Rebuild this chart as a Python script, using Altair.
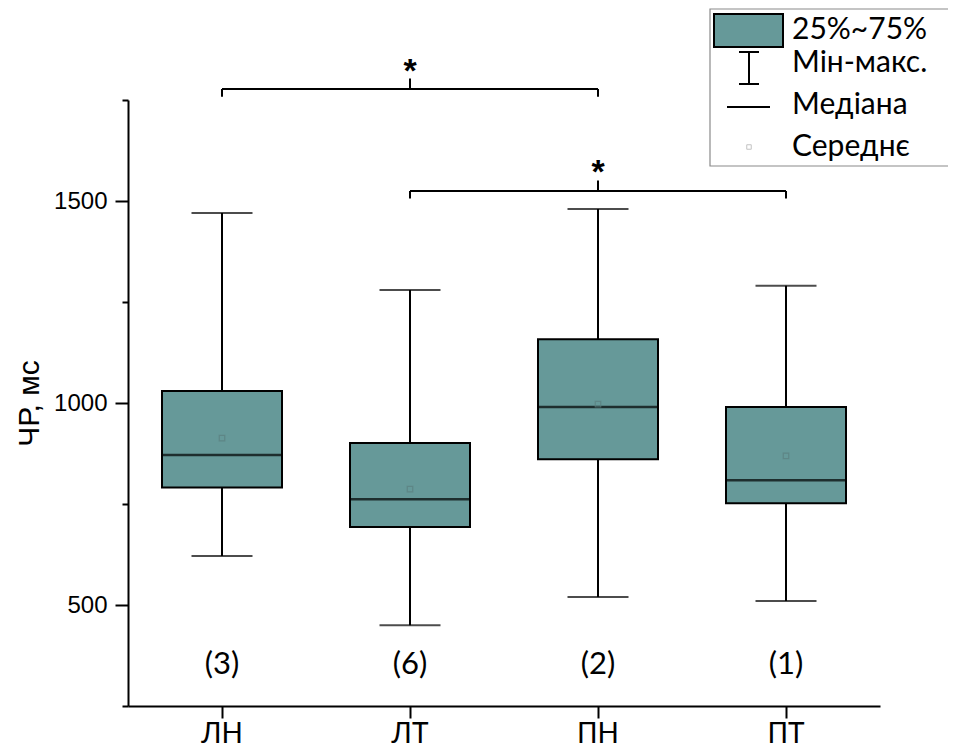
import altair as alt
import pandas as pd

# ---- data ----
categories = ["ЛН", "ЛТ", "ПН", "ПТ"]
q1_values = [791, 693, 861, 752]
q3_values = [1030, 901, 1158, 990]
median_values = [871, 762, 990, 809]
min_values = [621, 450, 520, 510]
max_values = [1470, 1280, 1480, 1290]
mean_values = [913, 787, 997, 869]
count_labels = ["(3)", "(6)", "(2)", "(1)"]
COUNT_Y = 352

bracket_left = ["ЛН", "ЛТ"]
bracket_right = ["ПН", "ПТ"]
bracket_level = [1777, 1525]
bracket_marks = ["*", "*"]

y_ticks = [250, 500, 750, 1000, 1250, 1500, 1750]
legend_labels = ["25%~75%", "Мін-макс.", "Медіана", "Середнє"]

BOX_COLOR = "#669999"

df = pd.DataFrame({
    "cat": categories,
    "q1": q1_values,
    "q3": q3_values,
    "median": median_values,
    "min": min_values,
    "max": max_values,
    "mean": mean_values,
    "count": count_labels,
})

yscale = alt.Scale(domain=[250, 1750], nice=False, zero=False)
yaxis = alt.Axis(
    values=y_ticks, format="d",
    labelExpr="datum.value % 500 === 0 ? datum.label : ''",
    tickSize={"condition": {"test": "datum.value % 500 === 0", "value": 13}, "value": 6},
    title="ЧР, мс", titleFont="Liberation Sans", titleFontSize=30,
    titleFontWeight="normal", titlePadding=9,
    labelFont="Liberation Sans", labelFontSize=24, labelPadding=8,
)
xscale = alt.Scale(domain=categories, paddingInner=0, paddingOuter=0)
xaxis = alt.Axis(title=None, labelAngle=0, labelFont="Lato", labelFontSize=28,
                 tickSize=12, labelPadding=2)

X = alt.X("cat:N", scale=xscale, axis=xaxis, sort=categories)


def Y(field):
    return alt.Y(field, scale=yscale, axis=yaxis)


base = alt.Chart(df)
whisk_low = base.mark_rule(color="black", strokeWidth=2).encode(x=X, y=Y("min:Q"), y2="q1:Q")
whisk_high = base.mark_rule(color="black", strokeWidth=2).encode(x=X, y=Y("q3:Q"), y2="max:Q")
cap_min = base.mark_tick(size=61, thickness=2, color="black").encode(x=X, y=Y("min:Q"))
cap_max = base.mark_tick(size=61, thickness=2, color="black").encode(x=X, y=Y("max:Q"))
box = base.mark_bar(size=120, fill=BOX_COLOR, stroke="black", strokeWidth=2).encode(
    x=X, y=Y("q1:Q"), y2="q3:Q")
med = base.mark_tick(size=120, thickness=2.5, color="black").encode(x=X, y=Y("median:Q"))
mean = base.mark_square(size=30, filled=False, stroke="#5b7f7f", strokeWidth=1.2).encode(
    x=X, y=Y("mean:Q"))
counts = base.mark_text(font="Lato", fontSize=31, baseline="middle", color="black").encode(
    x=X, y=alt.YDatum(COUNT_Y, scale=yscale, axis=yaxis), text="count:N")

main = alt.layer(whisk_low, whisk_high, cap_min, cap_max, box, med, mean, counts)

# ---- significance brackets ----
left_pos = [categories.index(c) + 0.5 for c in bracket_left]
right_pos = [categories.index(c) + 0.5 for c in bracket_right]
bdf = pd.DataFrame({"left": left_pos, "right": right_pos, "level": bracket_level, "label": bracket_marks})
bdf["mid"] = (bdf["left"] + bdf["right"]) / 2
bdf["drop"] = bdf["level"] - 19
bdf["rise"] = bdf["level"] + 26

bx = alt.Scale(domain=[0, len(categories)], nice=False, zero=False)
bchart = alt.Chart(bdf)
b_h = bchart.mark_rule(color="black", strokeWidth=2).encode(
    x=alt.X("left:Q", scale=bx, axis=None), x2="right:Q", y=Y("level:Q"))
b_l = bchart.mark_rule(color="black", strokeWidth=2).encode(
    x=alt.X("left:Q", scale=bx, axis=None), y=Y("level:Q"), y2="drop:Q")
b_r = bchart.mark_rule(color="black", strokeWidth=2).encode(
    x=alt.X("right:Q", scale=bx, axis=None), y=Y("level:Q"), y2="drop:Q")
b_c = bchart.mark_rule(color="black", strokeWidth=2).encode(
    x=alt.X("mid:Q", scale=bx, axis=None), y=Y("level:Q"), y2="rise:Q")
b_t = bchart.mark_text(font="Liberation Sans", fontWeight="bold", fontSize=34,
                       baseline="alphabetic", dy=3, color="black").encode(
    x=alt.X("mid:Q", scale=bx, axis=None), y=Y("rise:Q"), text="label:N")
brackets = alt.layer(b_h, b_l, b_r, b_c, b_t)

# ---- hand-drawn legend (pixel positions relative to the plot origin) ----
one = alt.Chart(pd.DataFrame({"k": [0]}))
lg_frame = one.mark_rect(fill="white", stroke="#8a8a8a", strokeWidth=1.2).encode(
    x=alt.value(582), x2=alt.value(840), y=alt.value(-91), y2=alt.value(66))
lg_box = one.mark_rect(fill=BOX_COLOR, stroke="black", strokeWidth=2).encode(
    x=alt.value(586), x2=alt.value(655), y=alt.value(-86), y2=alt.value(-53))
lg_wv = one.mark_rule(color="black", strokeWidth=2).encode(
    x=alt.value(621), y=alt.value(-48), y2=alt.value(-16))
lg_wt = one.mark_rule(color="black", strokeWidth=2).encode(
    x=alt.value(611), x2=alt.value(631), y=alt.value(-48))
lg_wb = one.mark_rule(color="black", strokeWidth=2).encode(
    x=alt.value(611), x2=alt.value(631), y=alt.value(-16))
lg_med = one.mark_rule(color="black", strokeWidth=2).encode(
    x=alt.value(599), x2=alt.value(642), y=alt.value(7))
lg_mean = one.mark_square(size=20, filled=False, stroke="#aaaaaa", strokeWidth=1).encode(
    x=alt.value(621), y=alt.value(47))
legend_y = [-70, -37, 5, 47]
lg_texts = [
    one.mark_text(text=t, font="Lato", fontSize=30, align="left", baseline="middle",
                  color="black").encode(x=alt.value(664), y=alt.value(yy))
    for t, yy in zip(legend_labels, legend_y)
]
legend = alt.layer(lg_frame, lg_box, lg_wv, lg_wt, lg_wb, lg_med, lg_mean, *lg_texts)

chart = alt.layer(main, brackets, legend).resolve_scale(x="independent").properties(
    width=752, height=606,
    padding={"left": 120, "top": 92, "right": 68, "bottom": 41},
    autosize=alt.AutoSizeParams(type="none"),
).configure_axis(
    grid=False, domainColor="black", tickColor="black", labelColor="black",
    titleColor="black", domainWidth=2, tickWidth=2,
).configure_view(strokeOpacity=0)

chart.save("out.html", embed_options={"renderer": "svg", "actions": False})
